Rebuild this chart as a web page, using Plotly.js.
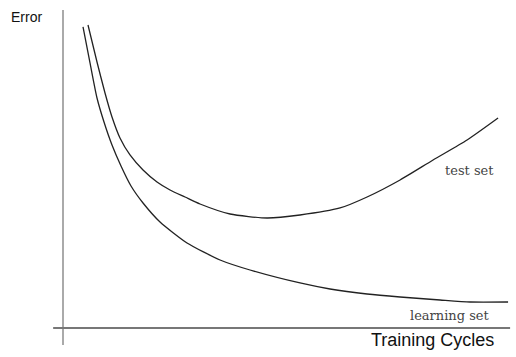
<!DOCTYPE html>
<html>
<head>
<meta charset="utf-8">
<script src="https://cdn.plot.ly/plotly-3.0.1.min.js"></script>
<style>html,body{margin:0;padding:0;background:#fff;}#chart{width:516px;height:357px;}</style>
</head>
<body>
<div id="chart"></div>
<script>
// Training cycles (arbitrary units) and error (arbitrary units)
const testX = [5.72, 7.78, 9.61, 11.21, 13.04, 15.33, 18.31, 21.51, 24.49, 27.92, 31.35, 38.22, 46.68, 54.23, 63.39, 69.57, 77.12, 84.67, 92.45, 99.54];
const testY = [95.31, 83.75, 74.06, 66.56, 60.0, 54.69, 50.0, 46.25, 43.75, 41.56, 39.38, 36.25, 35.0, 35.94, 38.13, 41.56, 46.88, 53.13, 59.38, 66.25];
const learnX = [4.58, 6.18, 7.78, 9.38, 11.21, 13.27, 15.56, 18.31, 22.2, 28.38, 35.93, 42.79, 54.23, 61.1, 69.57, 77.12, 86.27, 93.14, 101.83];
const learnY = [94.69, 83.44, 72.5, 65.0, 57.81, 51.25, 45.0, 39.69, 33.75, 27.19, 21.88, 18.75, 14.69, 12.81, 11.25, 10.31, 9.38, 8.75, 8.75];
const seriesNames = ["test set", "learning set"];
const axisTitles = {x: "Training Cycles", y: "Error"};

const lineStyle = {color: '#222', width: 1.3, shape: 'spline', smoothing: 0.6};
const traces = [
  {x: testX, y: testY, mode: 'lines', name: seriesNames[0], line: lineStyle, hoverinfo: 'none'},
  {x: learnX, y: learnY, mode: 'lines', name: seriesNames[1], line: lineStyle, hoverinfo: 'none'}
];

const layout = {
  width: 516, height: 357,
  margin: {l: 63, r: 5, t: 10, b: 27},
  paper_bgcolor: '#fff', plot_bgcolor: '#fff',
  showlegend: false,
  xaxis: {range: [0, 102.5], showgrid: false, zeroline: false, showticklabels: false, ticks: '', showline: false},
  yaxis: {range: [0, 100], showgrid: false, zeroline: false, showticklabels: false, ticks: '', showline: false},
  shapes: [
    {type: 'line', xref: 'paper', yref: 'paper', x0: 0, x1: 0, y0: -0.047, y1: 1.0, line: {color: '#aaa', width: 2}},
    {type: 'line', xref: 'paper', yref: 'paper', x0: -0.022, x1: 0.998, y0: 0.006, y1: 0.006, line: {color: '#777', width: 2}}
  ],
  annotations: [
    {text: axisTitles.y, xref: 'paper', yref: 'paper', x: -0.121, y: 0.978, xanchor: 'left', yanchor: 'middle', showarrow: false,
     font: {family: 'Liberation Sans, Arial, sans-serif', size: 14, color: '#111'}},
    {text: axisTitles.x, xref: 'paper', yref: 'paper', x: 0.967, y: -0.031, xanchor: 'right', yanchor: 'middle', showarrow: false,
     font: {family: 'Liberation Sans, Arial, sans-serif', size: 18, color: '#111'}},
    {text: seriesNames[0], xref: 'x', yref: 'y', x: 93.0, y: 49.7, xanchor: 'center', yanchor: 'middle', showarrow: false,
     font: {family: 'DejaVu Serif, Liberation Serif, serif', size: 13, color: '#444'}},
    {text: seriesNames[1], xref: 'x', yref: 'y', x: 88.6, y: 4.4, xanchor: 'center', yanchor: 'middle', showarrow: false,
     font: {family: 'DejaVu Serif, Liberation Serif, serif', size: 13, color: '#444'}}
  ]
};

Plotly.newPlot('chart', traces, layout, {staticPlot: true, displayModeBar: false});
</script>
</body>
</html>
